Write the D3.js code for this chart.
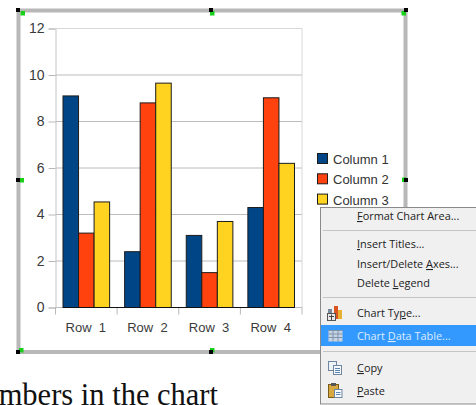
<!DOCTYPE html>
<html>
<head>
<meta charset="utf-8">
<script src="https://cdn.jsdelivr.net/npm/d3@7"></script>
<style>
html,body{margin:0;padding:0;background:#fff;overflow:hidden}
svg{display:block}
text{font-family:"Liberation Sans",Arial,sans-serif}
.menu text{font-family:"Open Sans","Noto Sans",sans-serif;font-size:10.9px;fill:#222}
</style>
</head>
<body>
<svg id="c" width="476" height="405"></svg>
<script>
// Grouped bar data
const rows = ["Row  1", "Row  2", "Row  3", "Row  4"];
const columns = ["Column 1", "Column 2", "Column 3"];
const column1 = [9.1, 2.4, 3.1, 4.3];
const column2 = [3.2, 8.8, 1.5, 9.02];
const column3 = [4.54, 9.65, 3.7, 6.2];
const colours = ["#004586", "#ff420e", "#ffd320"];
const yTicks = [0, 2, 4, 6, 8, 10, 12];

// Context menu entries: label, underlined letter index
const menuLabels = ["Format Chart Area...", "Insert Titles...", "Insert/Delete Axes...", "Delete Legend", "Chart Type...", "Chart Data Table...", "Copy", "Paste"];
const menuKeys = [0, 0, 14, 7, 8, 6, 0, 0];
const menuRows = [216, 244, 264, 283, 313, 336, 368, 391];
const menuSeparators = [230, 297, 351];

const svg = d3.select("#c");
const series = [column1, column2, column3];

const x = d3.scaleBand().domain(rows).range([55.5, 302]);
const xInner = d3.scaleBand().domain(columns).range([0, x.bandwidth() - 15]);
const y = d3.scaleLinear().domain([0, 12]).range([307.5, 28.5]);

// Chart frame
svg.append("rect").attr("x", 18.5).attr("y", 10.5).attr("width", 387).attr("height", 341.5)
  .attr("fill", "#fff").attr("stroke", "#b8b8b8").attr("stroke-width", 4);

// Value axis with gridlines
const yAxis = svg.append("g").attr("transform", "translate(55.5,0)")
  .call(d3.axisLeft(y).tickValues(yTicks).tickSize(7).tickPadding(4).tickFormat(d3.format("d")));
yAxis.select(".domain").attr("stroke", "#c4c4c4");
yAxis.selectAll(".tick line").attr("stroke", "#b8b8b8");
yAxis.selectAll(".tick text").attr("font-size", 14).attr("fill", "#3a3a3a").style("font-family", "'Liberation Sans'");
svg.append("g").selectAll("line").data(yTicks).join("line")
  .attr("x1", 55.5).attr("x2", 302)
  .attr("y1", d => y(d)).attr("y2", d => y(d))
  .attr("stroke", d => d === 12 ? "#d8d8d8" : "#bcbcbc");
svg.append("line").attr("x1", 302).attr("x2", 302).attr("y1", 28).attr("y2", 307.5).attr("stroke", "#d8d8d8");

// Category axis: ticks on band edges
const xAxisG = svg.append("g");
xAxisG.selectAll("line").data(d3.range(rows.length + 1)).join("line")
  .attr("x1", i => 55.5 + i * x.step()).attr("x2", i => 55.5 + i * x.step())
  .attr("y1", 307.5).attr("y2", 314.5).attr("stroke", "#b8b8b8");
xAxisG.selectAll("text").data(rows).join("text")
  .attr("x", d => x(d) + x.bandwidth() / 2 - 0.5).attr("y", 332)
  .attr("text-anchor", "middle").attr("font-size", 13).attr("fill", "#3a3a3a")
  .style("white-space", "pre").text(d => d);

// Bars
series.forEach((vals, s) => {
  svg.append("g").selectAll("rect").data(vals).join("rect")
    .attr("x", (d, i) => x(rows[i]) + 7.5 + xInner(columns[s]))
    .attr("y", d => y(d))
    .attr("width", xInner.bandwidth())
    .attr("height", d => y(0) - y(d))
    .attr("fill", colours[s])
    .attr("stroke", "#1c1c1c").attr("stroke-width", 1);
});
svg.append("line").attr("x1", 63).attr("x2", 294).attr("y1", 307.5).attr("y2", 307.5).attr("stroke", "#111");

// Legend
const legend = svg.append("g").selectAll("g").data(columns).join("g")
  .attr("transform", (d, i) => `translate(317.5,${153.5 + i * 20.3})`);
legend.append("rect").attr("width", 10).attr("height", 10)
  .attr("fill", (d, i) => colours[i]).attr("stroke", "#1c1c1c");
legend.append("text").attr("x", 15.5).attr("y", 10.5).attr("font-size", 13).attr("fill", "#333").text(d => d);

// Selection handles
const handleXY = [[18, 10], [211, 10], [406, 10], [18, 180], [406, 180], [18, 352], [211, 352]];
const greenXY = [[20.5, 11], [210, 11], [401.5, 11], [19.5, 178], [402, 177.5], [19, 348], [210, 348]];
svg.append("g").selectAll("rect").data(greenXY).join("rect")
  .attr("x", d => d[0]).attr("y", d => d[1]).attr("width", 4.5).attr("height", 4.5).attr("fill", "#18d018");
svg.append("g").selectAll("rect").data(handleXY).join("rect")
  .attr("x", d => d[0] - 2).attr("y", d => d[1] - 2).attr("width", 4).attr("height", 4).attr("fill", "#000");

// Document text behind the chart
svg.append("text").attr("x", 218).attr("y", 405).attr("text-anchor", "end")
  .style("font-family", "'Liberation Serif',serif").attr("font-size", 30.5).attr("fill", "#111")
  .text("numbers in the chart");

// Context menu
const menu = svg.append("g").attr("class", "menu");
menu.append("rect").attr("x", 320.5).attr("y", 207.5).attr("width", 160).attr("height", 196.5)
  .attr("fill", "#f0f0f0").attr("stroke", "#8a8a8a");
menu.append("rect").attr("x", 321).attr("y", 325).attr("width", 155).attr("height", 21).attr("fill", "#3399ff");
menu.selectAll("line").data(menuSeparators).join("line")
  .attr("x1", 323).attr("x2", 476).attr("y1", d => d + 0.5).attr("y2", d => d + 0.5).attr("stroke", "#c4c4c4");

// Labels with the access key underlined
menu.selectAll("text").data(menuLabels).join("text")
  .attr("x", 357).attr("y", (d, i) => menuRows[i] + 4)
  .style("fill", (d, i) => i === 5 ? "#dcecff" : "#222")
  .each(function (d, i) {
    const k = menuKeys[i], t = d3.select(this);
    t.append("tspan").text(d.slice(0, k));
    t.append("tspan").attr("text-decoration", "underline").text(d[k]);
    t.append("tspan").text(d.slice(k + 1));
  });

// Chart type icon
const typeIcon = menu.append("g").attr("transform", "translate(327,306)");
typeIcon.append("rect").attr("x", 7).attr("y", 0).attr("width", 4).attr("height", 13).attr("fill", "#d9541e");
typeIcon.append("rect").attr("x", 11).attr("y", 4).attr("width", 4).attr("height", 9).attr("fill", "#e8b030");
typeIcon.append("rect").attr("x", 1).attr("y", 3).attr("width", 4).attr("height", 4).attr("fill", "#7a8a9a");
typeIcon.append("rect").attr("x", 0.5).attr("y", 7.5).attr("width", 8).attr("height", 7).attr("fill", "#e8e8e8").attr("stroke", "#555");
typeIcon.append("path").attr("d", "M4.5 8.5V14M2 10.5H7").attr("stroke", "#444").attr("fill", "none");

// Data table icon
const tableIcon = menu.append("g").attr("transform", "translate(328.5,330.5)");
tableIcon.append("rect").attr("width", 14).attr("height", 11).attr("fill", "#c8d4e2");
tableIcon.append("path").attr("d", "M0 0H14M0 3.5H14M0 7H14M4.5 0V11M9.5 0V11").attr("stroke", "#7f95ad").attr("fill", "none");

// Copy icon
const copyIcon = menu.append("g").attr("transform", "translate(328,361)");
copyIcon.append("rect").attr("x", 0.5).attr("y", 0.5).attr("width", 8).attr("height", 9).attr("fill", "#eef3f8").attr("stroke", "#6f86a0");
copyIcon.append("rect").attr("x", 5.5).attr("y", 4.5).attr("width", 8).attr("height", 9).attr("fill", "#f6f9fc").attr("stroke", "#6f86a0");
copyIcon.append("path").attr("d", "M7 7.5H12M7 9.5H12M7 11.5H12").attr("stroke", "#5a87b5").attr("fill", "none");

// Paste icon
const pasteIcon = menu.append("g").attr("transform", "translate(328,383)");
pasteIcon.append("rect").attr("x", 0.5).attr("y", 1.5).attr("width", 10).attr("height", 13).attr("fill", "#d9a941").attr("stroke", "#7a5a18");
pasteIcon.append("rect").attr("x", 3).attr("y", 0).attr("width", 5).attr("height", 3).attr("fill", "#555");
pasteIcon.append("rect").attr("x", 6.5).attr("y", 6.5).attr("width", 7.5).attr("height", 8).attr("fill", "#f6f9fc").attr("stroke", "#6f86a0");
pasteIcon.append("path").attr("d", "M8 9.5H12.5M8 11.5H12.5").attr("stroke", "#5a87b5").attr("fill", "none");
</script>
</body>
</html>
